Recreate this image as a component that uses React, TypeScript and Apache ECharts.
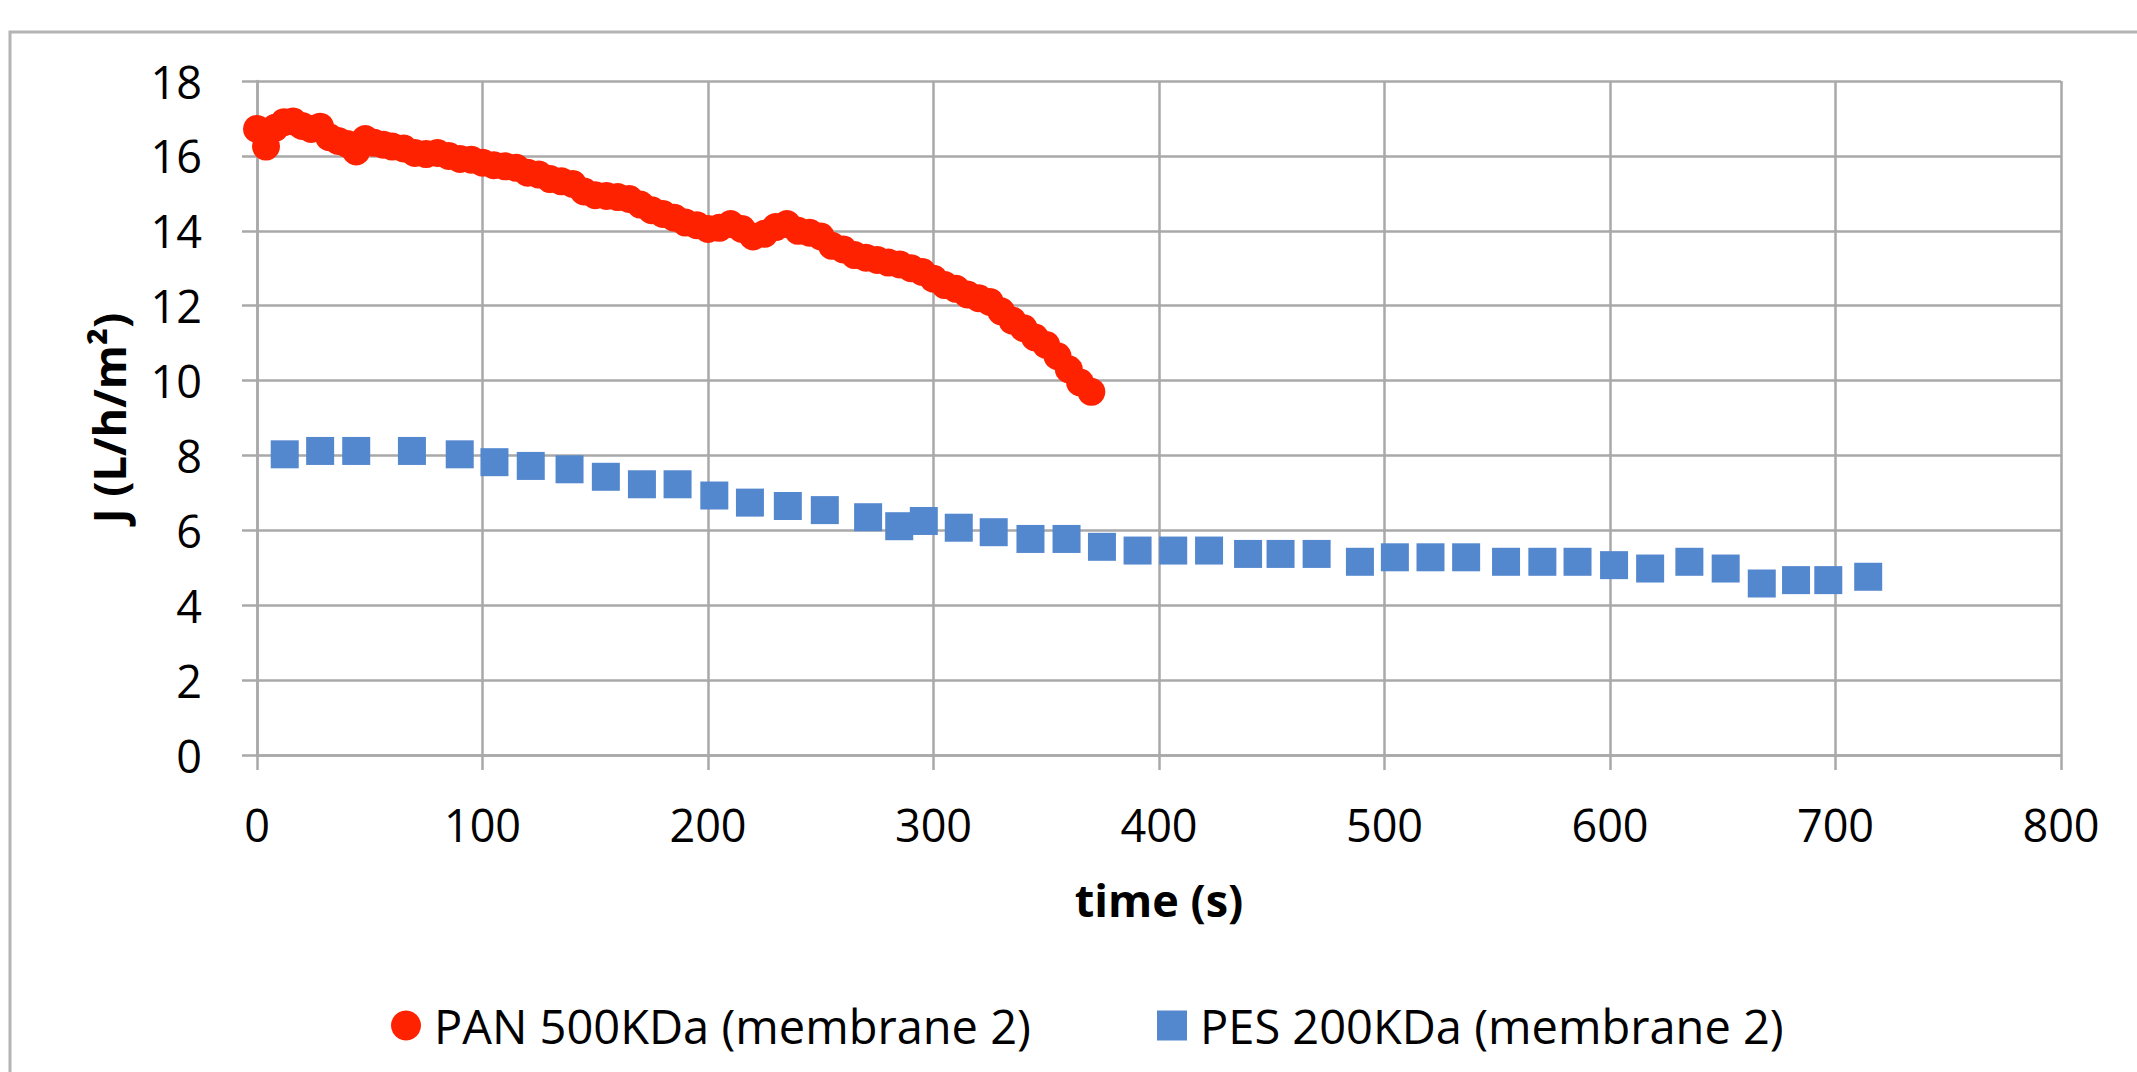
import React, { useEffect, useRef } from "react";
import * as echarts from "echarts";

const panName = "PAN 500KDa (membrane 2)";
const pesName = "PES 200KDa (membrane 2)";

const panTime = [
  0, 4, 8, 12, 16, 20, 24, 28, 32, 36, 40, 44, 48, 52, 56, 60, 65, 70, 75, 80,
  85, 90, 95, 100, 105, 110, 115, 120, 125, 130, 135, 140, 145, 150, 155, 160,
  165, 170, 175, 180, 185, 190, 195, 200, 205, 210, 215, 220, 225, 230, 235,
  240, 245, 250, 255, 260, 265, 270, 275, 280, 285, 290, 295, 300, 305, 310,
  315, 320, 325, 330, 335, 340, 345, 350, 355, 360, 365, 370,
];
const panFlux = [
  16.72, 16.25, 16.75, 16.9, 16.92, 16.8, 16.72, 16.78, 16.5, 16.4, 16.32,
  16.12, 16.45, 16.35, 16.3, 16.25, 16.2, 16.08, 16.05, 16.08, 16.0, 15.92,
  15.9, 15.82, 15.75, 15.72, 15.68, 15.55, 15.5, 15.38, 15.32, 15.25, 15.05,
  14.95, 14.93, 14.9, 14.85, 14.7, 14.55, 14.45, 14.35, 14.22, 14.15, 14.05,
  14.08, 14.18, 14.05, 13.85, 13.92, 14.1, 14.18, 14.0, 13.95, 13.85, 13.6,
  13.5, 13.35, 13.28, 13.22, 13.15, 13.1, 13.0, 12.9, 12.72, 12.55, 12.45,
  12.3, 12.2, 12.1, 11.85, 11.6, 11.4, 11.15, 10.95, 10.65, 10.3, 9.95, 9.7,
];

const pesTime = [
  12.3, 28, 44, 68.7, 89.9, 105.3, 121.4, 138.6, 154.7, 170.7, 186.5, 202.8,
  218.6, 235.4, 251.8, 271, 284.8, 295.7, 311.2, 326.7, 343, 359, 374.7, 390.5,
  406.3, 422.2, 439.5, 453.9, 469.9, 489.1, 504.6, 520.4, 536.2, 553.9, 570,
  585.6, 601.8, 617.8, 635.2, 651.3, 667.3, 682.5, 696.8, 714.5,
];
const pesFlux = [
  8.03, 8.12, 8.12, 8.12, 8.03, 7.82, 7.72, 7.63, 7.43, 7.23, 7.23, 6.93, 6.74,
  6.65, 6.54, 6.35, 6.11, 6.25, 6.07, 5.95, 5.77, 5.77, 5.56, 5.46, 5.46, 5.46,
  5.37, 5.37, 5.37, 5.16, 5.28, 5.28, 5.28, 5.16, 5.16, 5.16, 5.07, 4.98, 5.16,
  4.98, 4.58, 4.67, 4.67, 4.76,
];

const xTicks = { min: 0, max: 800, interval: 100 };
const yTicks = { min: 0, max: 18, interval: 2 };

const FONT = "'Open Sans', 'Noto Sans', sans-serif";
const GRID_COLOR = "#a9a9a9";

export default function App() {
  const ref = useRef<HTMLDivElement | null>(null);

  useEffect(() => {
    if (!ref.current) return;
    const chart = echarts.init(ref.current, undefined, { renderer: "svg" });
    const lineStyle = { color: GRID_COLOR, width: 2.5 };
    const legendText = {
      fontFamily: FONT,
      fontSize: 47,
      color: "#000",
      padding: [0, 0, 0, 8],
    };
    chart.setOption({
      animation: false,
      backgroundColor: "#ffffff",
      textStyle: { fontFamily: FONT },
      grid: { left: 257, right: 76, top: 81, bottom: 317, containLabel: false },
      graphic: [
        {
          type: "rect",
          z: -10,
          shape: { x: 10, y: 32, width: 2300, height: 1300 },
          style: { fill: "none", stroke: "#b4b4b4", lineWidth: 3 },
        },
      ],
      xAxis: {
        type: "value",
        min: xTicks.min,
        max: xTicks.max,
        interval: xTicks.interval,
        name: "time (s)",
        nameLocation: "middle",
        nameGap: 122,
        nameTextStyle: {
          fontFamily: FONT,
          fontSize: 45,
          fontWeight: "bold",
          color: "#000",
        },
        axisLine: { show: true, lineStyle },
        axisTick: { show: true, length: 15, lineStyle },
        splitLine: { show: true, lineStyle },
        axisLabel: {
          fontFamily: FONT,
          fontSize: 45,
          color: "#000",
          margin: 47,
        },
      },
      yAxis: {
        type: "value",
        min: yTicks.min,
        max: yTicks.max,
        interval: yTicks.interval,
        name: "J (L/h/m²)",
        nameLocation: "middle",
        nameRotate: 90,
        nameGap: 126,
        nameTextStyle: {
          fontFamily: FONT,
          fontSize: 45,
          fontWeight: "bold",
          color: "#000",
        },
        axisLine: { show: true, lineStyle },
        axisTick: { show: true, length: 15, lineStyle },
        splitLine: { show: true, lineStyle },
        axisLabel: {
          fontFamily: FONT,
          fontSize: 45,
          color: "#000",
          margin: 55,
        },
      },
      legend: [
        {
          data: [panName],
          left: 386,
          top: 997,
          itemWidth: 30,
          itemHeight: 30,
          textStyle: legendText,
        },
        {
          data: [pesName],
          left: 1152,
          top: 997,
          itemWidth: 30,
          itemHeight: 30,
          textStyle: legendText,
        },
      ],
      series: [
        {
          name: pesName,
          type: "scatter",
          symbol: "rect",
          symbolSize: 28,
          itemStyle: { color: "#5387CE", opacity: 1 },
          data: pesTime.map((t, i) => [t, pesFlux[i]]),
        },
        {
          name: panName,
          type: "scatter",
          symbol: "circle",
          symbolSize: 28,
          itemStyle: { color: "#FF2200", opacity: 1 },
          data: panTime.map((t, i) => [t, panFlux[i]]),
        },
      ],
    });
    return () => chart.dispose();
  }, []);

  return (
    <div
      ref={ref}
      style={{ position: "fixed", left: 0, top: 0, width: 2137, height: 1072 }}
    />
  );
}
